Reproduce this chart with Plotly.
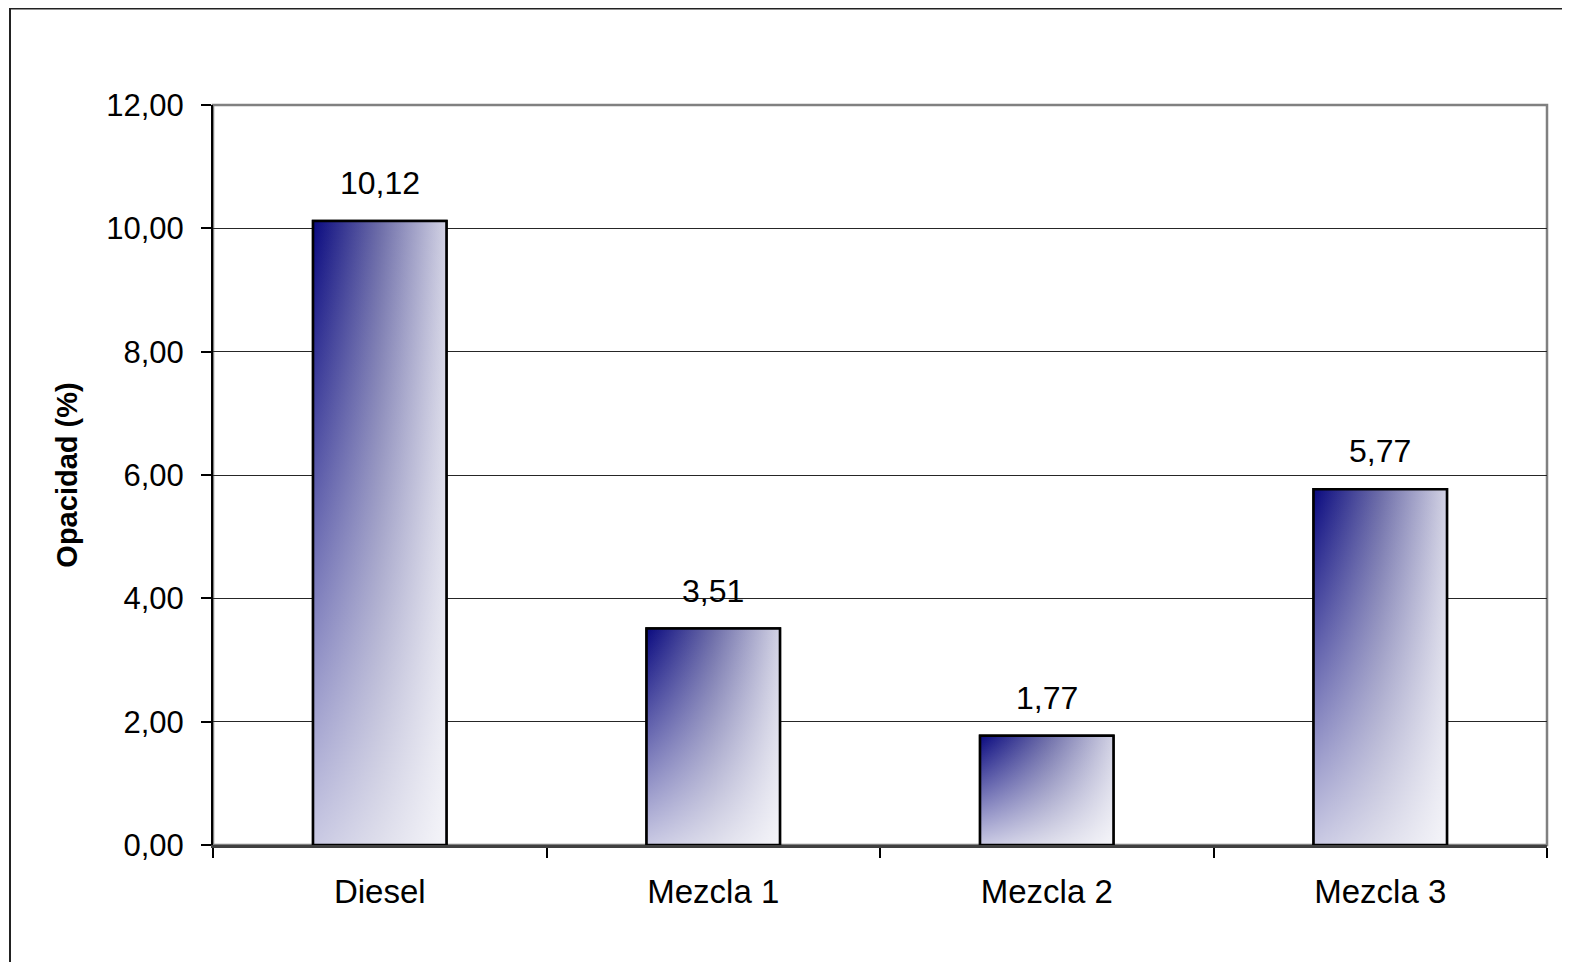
import plotly.graph_objects as go

categories = ["Diesel", "Mezcla 1", "Mezcla 2", "Mezcla 3"]
opacidad = [10.12, 3.51, 1.77, 5.77]
y_ticks = [0, 2, 4, 6, 8, 10, 12]

BAR_W = 0.4
FONT = "Liberation Sans, Arial, sans-serif"

W, H = 1570, 962
ML, MT, MR, MB = 205, 97, 31, 125
PW, PH = W - ML - MR, H - MT - MB

def fmt(v):
    return f"{v:.2f}".replace(".", ",")

fig = go.Figure()

# base bars (category axis)
fig.add_trace(go.Bar(
    x=categories, y=opacidad, width=BAR_W,
    marker=dict(color="#8a8ab8", line=dict(color="#000000", width=2.5)),
    showlegend=False, hoverinfo="skip",
))

# gradient overlays on a hidden linear axis matching the category axis
for i, v in enumerate(opacidad):
    x0, x1 = i - BAR_W / 2, i + BAR_W / 2
    xs = [x0, x1, x1, x0, x0]
    ys = [0, 0, v, v, 0]
    fig.add_trace(go.Scatter(
        x=xs, y=ys, xaxis="x2", mode="lines", fill="toself",
        line=dict(width=0, color="rgba(0,0,0,0)"),
        fillgradient=dict(type="horizontal",
                          colorscale=[[0, "#0a0a80"], [0.5, "#6c6ca8"], [1, "#d2d2e4"]],
                          start=x0, stop=x1),
        showlegend=False, hoverinfo="skip",
    ))
    fig.add_trace(go.Scatter(
        x=xs, y=ys, xaxis="x2", mode="lines", fill="toself",
        line=dict(width=2.5, color="#000000"),
        fillgradient=dict(type="vertical",
                          colorscale=[[0, "rgba(255,255,255,0.78)"], [1, "rgba(255,255,255,0)"]],
                          start=0, stop=v),
        showlegend=False, hoverinfo="skip",
    ))

# data labels
for c, v in zip(categories, opacidad):
    fig.add_annotation(x=c, y=v, text=fmt(v), showarrow=False, yshift=38,
                       xref="x", yref="y",
                       font=dict(family=FONT, size=32, color="#000000"))

# plot-area border (gray top/right)
fig.add_shape(type="rect", xref="paper", yref="paper", x0=0, x1=1, y0=0, y1=1,
              line=dict(color="#808080", width=2.5), layer="below")
# outer chart border (left/top visible, right/bottom run off the picture)
fig.add_shape(type="rect", xref="paper", yref="paper",
              x0=(2 - ML) / PW, x1=(W + 10 - ML) / PW,
              y0=-(H + 10 - MT - PH) / PH, y1=(PH + MT - 0.5) / PH,
              line=dict(color="#222222", width=2), layer="below")

fig.update_layout(
    width=W, height=H,
    margin=dict(l=ML, r=MR, t=MT, b=MB, autoexpand=False),
    paper_bgcolor="#ffffff", plot_bgcolor="#ffffff",
    separators=",.",
    showlegend=False,
    font=dict(family=FONT, color="#000000"),
    xaxis=dict(
        type="category", range=[-0.5, 3.5], tickson="boundaries",
        ticks="outside", ticklen=10, tickwidth=1.5, tickcolor="#000000",
        showline=True, linecolor="#404040", linewidth=2.5,
        showgrid=False, ticklabelstandoff=16,
        tickfont=dict(family=FONT, size=33, color="#000000"),
    ),
    xaxis2=dict(overlaying="x", range=[-0.5, 3.5], visible=False, fixedrange=True),
    yaxis=dict(
        range=[0, 12], tickvals=y_ticks, tickformat=".2f",
        ticks="outside", ticklen=10, tickwidth=1.5, tickcolor="#000000",
        showline=True, linecolor="#000000", linewidth=2,
        showgrid=True, gridcolor="#262626", gridwidth=1,
        zeroline=False, ticklabelstandoff=11,
        tickfont=dict(family=FONT, size=31, color="#000000"),
        title=dict(text="<b>Opacidad (%)</b>", standoff=20,
                   font=dict(family=FONT, size=29, color="#000000")),
    ),
    bargap=0.6,
)

fig.write_html("out.html")
